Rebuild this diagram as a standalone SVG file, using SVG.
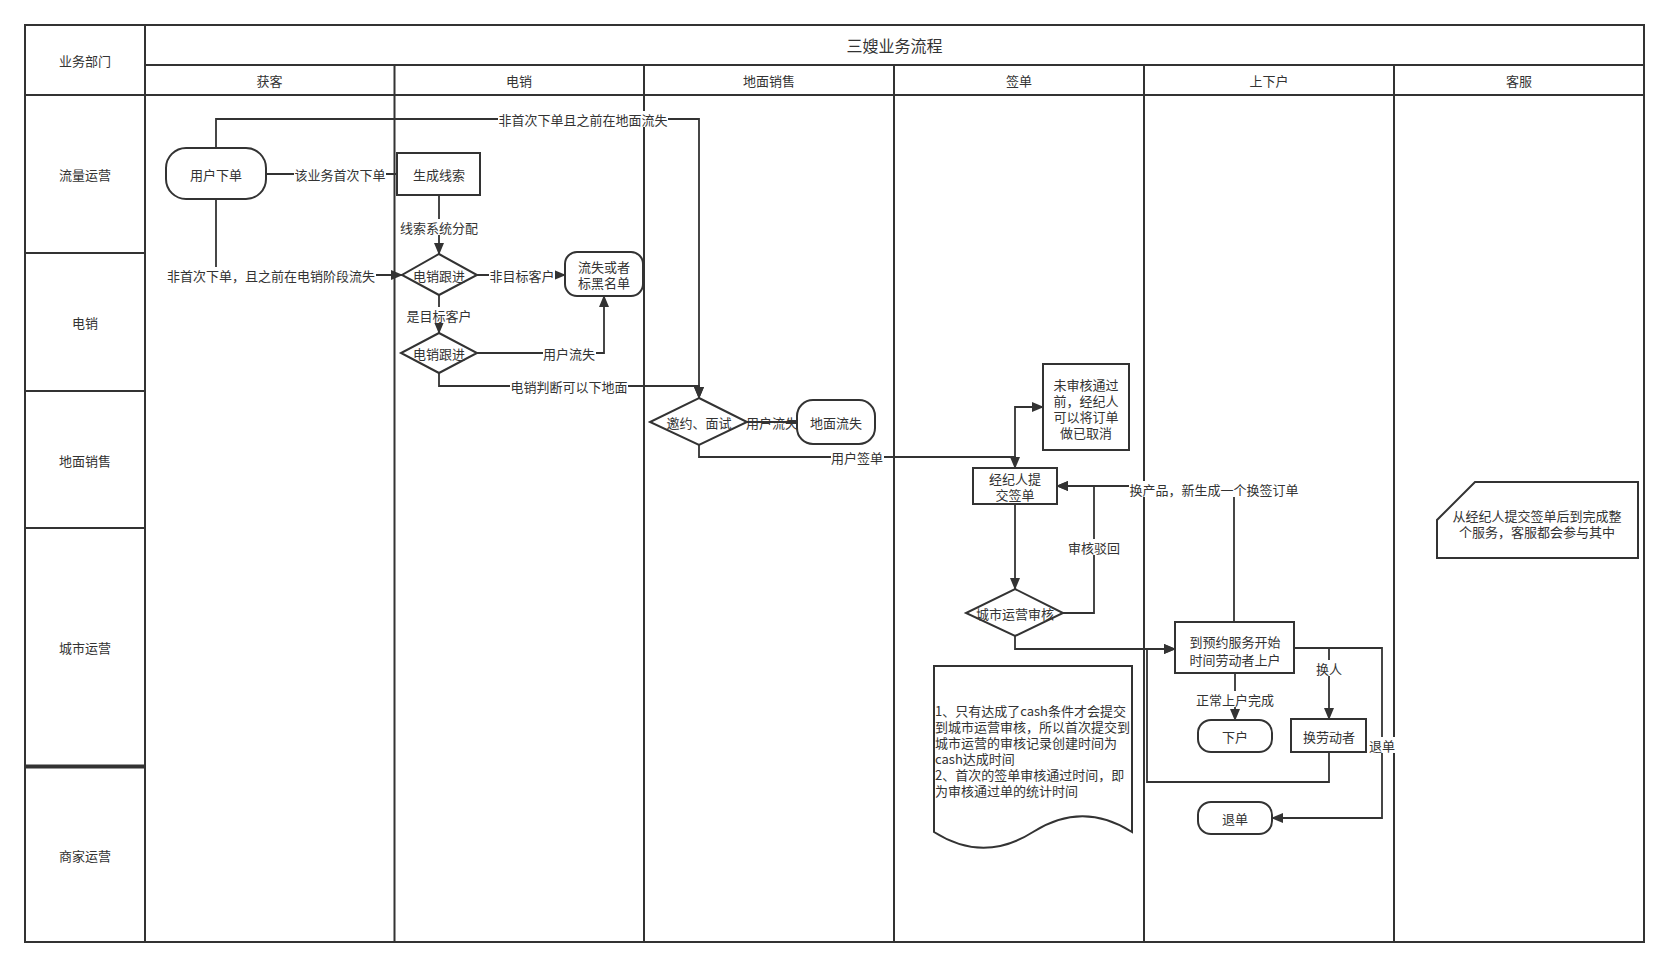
<svg xmlns="http://www.w3.org/2000/svg" width="1670" height="968" viewBox="0 0 1670 968">
<style>
text{font-family:"Noto Sans CJK SC","Liberation Sans",sans-serif;font-size:13px;fill:#333;text-anchor:middle;dominant-baseline:central}
.frame{fill:none;stroke:#333;stroke-width:2}
.ln{fill:none;stroke:#333;stroke-width:2}
.shape{fill:#fff;stroke:#333;stroke-width:2}
.edge{fill:none;stroke:#333;stroke-width:1.8}
.arr{marker-end:url(#ah)}
.lbg{fill:#fff}
.title{font-size:16px}
.lt{text-anchor:start}
</style>
<defs>
<marker id="ah" viewBox="0 0 12 10" markerWidth="12" markerHeight="10" refX="11" refY="5" orient="auto" markerUnits="userSpaceOnUse">
<path d="M0,0 L12,5 L0,10 Z" fill="#333"/>
</marker>
</defs>
<rect width="1670" height="968" fill="#fff"/>
<g id="pool">
<rect class="frame" x="25" y="25" width="1619" height="917"/>
<line class="ln" x1="145" y1="25" x2="145" y2="942"/>
<line class="ln" x1="145" y1="65" x2="1644" y2="65"/>
<line class="ln" x1="25" y1="95" x2="1644" y2="95"/>
<line class="ln" x1="394.5" y1="65" x2="394.5" y2="942"/>
<line class="ln" x1="644" y1="65" x2="644" y2="942"/>
<line class="ln" x1="894" y1="65" x2="894" y2="942"/>
<line class="ln" x1="1144" y1="65" x2="1144" y2="942"/>
<line class="ln" x1="1394" y1="65" x2="1394" y2="942"/>
<line class="ln" x1="25" y1="253" x2="145" y2="253"/>
<line class="ln" x1="25" y1="391" x2="145" y2="391"/>
<line class="ln" x1="25" y1="528" x2="145" y2="528"/>
<line class="ln" style="stroke-width:4" x1="25" y1="766.5" x2="145" y2="766.5"/>
<text x="85" y="60">业务部门</text>
<text class="title" x="894.5" y="45">三嫂业务流程</text>
<text x="269.5" y="80">获客</text>
<text x="519" y="80">电销</text>
<text x="769" y="80">地面销售</text>
<text x="1019" y="80">签单</text>
<text x="1269" y="80">上下户</text>
<text x="1519" y="80">客服</text>
<text x="85" y="174">流量运营</text>
<text x="85" y="322">电销</text>
<text x="85" y="460">地面销售</text>
<text x="85" y="647">城市运营</text>
<text x="85" y="855">商家运营</text>
</g>
<g id="connectors">
<path class="edge" d="M266,174 H397"/>
<path class="edge arr" d="M439,195 V254"/>
<path class="edge arr" d="M216,199 V275 H402"/>
<path class="edge arr" d="M477,275 H565"/>
<path class="edge arr" d="M439,295 V333"/>
<path class="edge arr" d="M477,353 H604 V296"/>
<path class="edge arr" d="M439,373 V386 H699 V398"/>
<path class="edge arr" d="M216,148 V119 H699 V398"/>
<path class="edge" d="M747,422 H797"/>
<path class="edge arr" d="M699,445 V457 H1015 V468"/>
<path class="edge arr" d="M1015,468 V407 H1043"/>
<path class="edge arr" d="M1015,504 V589"/>
<path class="edge arr" d="M1063,613 H1094 V486 H1057"/>
<path class="edge arr" d="M1234,622 V486 H1057"/>
<path class="edge arr" d="M1015,636 V649 H1175"/>
<path class="edge arr" d="M1329,752 V782 H1147 V649 H1175"/>
<path class="edge arr" d="M1235,673 V720"/>
<path class="edge arr" d="M1294,648 H1329 V719"/>
<path class="edge arr" d="M1294,648 H1382 V818 H1272"/>
<rect class="lbg" x="294" y="166" width="92" height="16"/>
<text x="340" y="174">该业务首次下单</text>
<rect class="lbg" x="400" y="219" width="80" height="16"/>
<text x="439" y="227">线索系统分配</text>
<rect class="lbg" x="166" y="267" width="210" height="16"/>
<text x="271" y="275">非首次下单，且之前在电销阶段流失</text>
<rect class="lbg" x="489" y="267" width="66" height="16"/>
<text x="522" y="275">非目标客户</text>
<rect class="lbg" x="406" y="307" width="66" height="16"/>
<text x="439" y="315">是目标客户</text>
<rect class="lbg" x="543" y="345" width="53" height="16"/>
<text x="569" y="353">用户流失</text>
<rect class="lbg" x="510" y="378" width="118" height="16"/>
<text x="569" y="386">电销判断可以下地面</text>
<rect class="lbg" x="498" y="111" width="170" height="16"/>
<text x="583" y="119">非首次下单且之前在地面流失</text>
<text x="772" y="422">用户流失</text>
<rect class="lbg" x="831" y="449" width="53" height="16"/>
<text x="857" y="457">用户签单</text>
<rect class="lbg" x="1068" y="539" width="53" height="16"/>
<text x="1094" y="547">审核驳回</text>
<rect class="lbg" x="1129" y="481" width="170" height="16"/>
<text x="1214" y="489">换产品，新生成一个换签订单</text>
<rect class="lbg" x="1194" y="691" width="80" height="16"/>
<text x="1235" y="699">正常上户完成</text>
<rect class="lbg" x="1315" y="660" width="28" height="16"/>
<text x="1329" y="668">换人</text>
<rect class="lbg" x="1368" y="737" width="28" height="16"/>
<text x="1382" y="745">退单</text>
</g>
<g id="n-user-order">
<rect class="shape" x="166" y="148" width="100" height="51" rx="20"/>
<text x="216" y="174">用户下单</text>
</g>
<g id="n-lead">
<rect class="shape" x="397" y="153" width="83" height="42"/>
<text x="439" y="174">生成线索</text>
</g>
<g id="n-tele1">
<polygon class="shape" points="439,254 477,275 439,295 402,275"/>
<text x="439" y="275">电销跟进</text>
</g>
<g id="n-lost">
<rect class="shape" x="565" y="252" width="78" height="44" rx="12"/>
<text x="604" y="266">流失或者</text>
<text x="604" y="282">标黑名单</text>
</g>
<g id="n-tele2">
<polygon class="shape" points="439,333 477,353 439,373 401,353"/>
<text x="439" y="353">电销跟进</text>
</g>
<g id="n-invite">
<polygon class="shape" points="699,398 747,422 699,445 650,422"/>
<text x="699" y="422">邀约、面试</text>
</g>
<g id="n-ground-lost">
<rect class="shape" x="797" y="400" width="78" height="44" rx="16"/>
<text x="836" y="422">地面流失</text>
</g>
<g id="n-cancel-note">
<rect class="shape" x="1043" y="364" width="86" height="86"/>
<text x="1086" y="384">未审核通过</text>
<text x="1086" y="400">前，经纪人</text>
<text x="1086" y="416">可以将订单</text>
<text x="1086" y="432">做已取消</text>
</g>
<g id="n-submit">
<rect class="shape" x="973" y="468" width="84" height="36"/>
<text x="1015" y="478">经纪人提</text>
<text x="1015" y="494">交签单</text>
</g>
<g id="n-review">
<polygon class="shape" points="1015,589 1063,613 1015,636 966,613"/>
<text x="1015" y="613">城市运营审核</text>
</g>
<g id="n-doc">
<path class="shape" d="M934,666 H1132 V832 Q1082.5,800.5 1033,832 Q983.5,863.5 934,832 Z"/>
<text class="lt" x="935" y="710">1、只有达成了cash条件才会提交</text>
<text class="lt" x="935" y="726">到城市运营审核，所以首次提交到</text>
<text class="lt" x="935" y="742">城市运营的审核记录创建时间为</text>
<text class="lt" x="935" y="758">cash达成时间</text>
<text class="lt" x="935" y="774">2、首次的签单审核通过时间，即</text>
<text class="lt" x="935" y="790">为审核通过单的统计时间</text>
</g>
<g id="n-onboard">
<rect class="shape" x="1175" y="622" width="119" height="51"/>
<text x="1235" y="641">到预约服务开始</text>
<text x="1235" y="659">时间劳动者上户</text>
</g>
<g id="n-offboard">
<rect class="shape" x="1198" y="720" width="74" height="32" rx="13"/>
<text x="1235" y="736">下户</text>
</g>
<g id="n-replace">
<rect class="shape" x="1291" y="719" width="75" height="33"/>
<text x="1329" y="736">换劳动者</text>
</g>
<g id="n-refund">
<rect class="shape" x="1198" y="802" width="74" height="32" rx="13"/>
<text x="1235" y="818">退单</text>
</g>
<g id="n-cs-note">
<path class="shape" d="M1475,482 H1638 V558 H1437 V520 Z"/>
<text x="1537" y="515">从经纪人提交签单后到完成整</text>
<text x="1537" y="531">个服务，客服都会参与其中</text>
</g>
</svg>
